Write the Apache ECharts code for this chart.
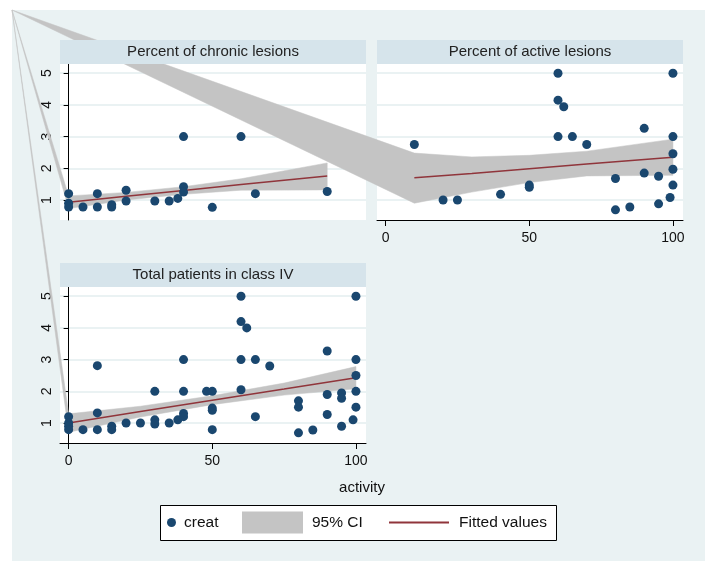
<!DOCTYPE html>
<html>
<head>
<meta charset="utf-8">
<script src="https://cdn.jsdelivr.net/npm/echarts@6/dist/echarts.min.js"></script>
<style>
  html, body { margin: 0; padding: 0; background: #fff; }
  #main { width: 724px; height: 578px; }
</style>
</head>
<body>
<div id="main"></div>
<script>
// panel titles
let panelTitles = ['Percent of chronic lesions', 'Percent of active lesions', 'Total patients in class IV'];

// creat vs activity, one pair of arrays per panel
let chronicX = [0, 0, 0, 5, 10, 10, 15, 15, 20, 20, 30, 35, 38, 40, 40, 40, 50, 60, 65, 90];
let chronicY = [1.2, 0.9, 0.78, 0.78, 1.2, 0.78, 0.78, 0.85, 1.31, 0.97, 0.97, 0.97, 1.05, 1.42, 1.25, 3.0, 0.77, 3.0, 1.2, 1.27];

let activeX = [10, 20, 25, 40, 50, 50, 60, 60, 62, 60, 65, 70, 80, 80, 85, 90, 90, 95, 95, 99, 100, 100, 100, 100, 100];
let activeY = [2.75, 1.0, 1.0, 1.18, 1.47, 1.4, 5.0, 4.15, 3.94, 3.0, 3.0, 2.75, 1.68, 0.69, 0.78, 3.26, 1.85, 1.75, 0.88, 1.08, 5.0, 3.0, 2.46, 1.97, 1.47];

let totalX = [0, 0, 0, 0, 5, 10, 10, 10, 15, 15, 20, 25, 30, 30, 30, 35, 38, 40, 40, 40, 40, 48, 50, 50, 50, 50,
    60, 60, 62, 60, 60, 65, 65, 70, 80, 80, 80, 85, 90, 90, 90, 95, 95, 95, 99, 100, 100, 100, 100, 100];
let totalY = [1.2, 1.0, 0.9, 0.79, 0.79, 2.81, 1.32, 0.79, 0.9, 0.79, 1.0, 1.0, 2.0, 1.1, 0.97, 1.0, 1.1, 3.0, 2.0, 1.3, 1.2, 2.0, 2.0, 1.47, 1.4, 0.79,
    5.0, 4.2, 4.0, 3.0, 2.05, 3.0, 1.2, 2.8, 1.7, 1.5, 0.69, 0.78, 3.27, 1.9, 1.27, 1.95, 1.78, 0.9, 1.1, 5.0, 3.0, 2.5, 2.0, 1.5];

// fitted values and 95% CI
let chronicFitX = [0, 20, 40, 60, 90];
let chronicFit = [0.93, 1.12, 1.30, 1.49, 1.76];
let chronicLo = [0.73, 1.0, 1.18, 1.31, 1.32];
let chronicHi = [1.13, 1.24, 1.42, 1.67, 2.17];

let activeFitX = [10, 30, 50, 70, 100];
let activeFit = [1.70, 1.84, 1.99, 2.14, 2.35];
let activeLo = [0.90, 1.25, 1.55, 1.76, 1.78];
let activeHi = [2.48, 2.36, 2.41, 2.54, 2.92];

let totalFitX = [0, 25, 50, 75, 100];
let totalFit = [1.0, 1.36, 1.72, 2.07, 2.43];
let totalLo = [0.71, 1.19, 1.58, 1.88, 2.08];
let totalHi = [1.29, 1.53, 1.86, 2.26, 2.78];

let yTicks = [1, 2, 3, 4, 5];
let xTicks = [0, 50, 100];

let navy = '#1a476f';
let maroon = '#90353b';
let ciGray = '#c4c4c4';
let frameColor = '#eaf2f3';
let stripColor = '#d6e4eb';
let font = '"Liberation Sans", Arial, sans-serif';

// frame corner (the CI polygons start here in the original)
let frame = {x: 12, y: 10, w: 693, h: 551};
let corner = [frame.x, frame.y];

let myChart = echarts.init(document.getElementById('main'));

let grids = [
    {left: 60, top: 64, width: 306, height: 156},
    {left: 377, top: 64, width: 306, height: 156},
    {left: 60, top: 287, width: 306, height: 156}
];

function xAxisFor(i, showAxis) {
    return {
        type: 'value', gridIndex: i, min: -3, max: 103.5,
        axisLine: {show: showAxis, onZero: false, lineStyle: {color: '#000', width: 1}},
        axisTick: {show: showAxis, length: 6, customValues: xTicks, lineStyle: {color: '#000'}},
        axisLabel: {show: showAxis, customValues: xTicks, margin: 11, color: '#111', fontSize: 14, fontFamily: font},
        splitLine: {show: false}
    };
}

function yAxisFor(i, showAxis) {
    return {
        type: 'value', gridIndex: i, min: 0.37, max: 5.29,
        axisLine: {show: showAxis, lineStyle: {color: '#000', width: 1}},
        axisTick: {show: showAxis, length: 5, customValues: yTicks, lineStyle: {color: '#000'}},
        axisLabel: {show: showAxis, customValues: yTicks, rotate: 90, margin: 6, color: '#111', fontSize: 14, fontFamily: font},
        splitLine: {show: true, lineStyle: {color: frameColor, width: 2}}
    };
}

function scatterSeries(i, xs, ys) {
    return {
        type: 'scatter', name: 'creat', xAxisIndex: i, yAxisIndex: i,
        data: xs.map((x, k) => [x, ys[k]]),
        symbolSize: 9, itemStyle: {color: navy, opacity: 1}, z: 5
    };
}

function fitSeries(i, xs, ys) {
    return {
        type: 'line', name: 'Fitted values', xAxisIndex: i, yAxisIndex: i,
        data: xs.map((x, k) => [x, ys[k]]),
        showSymbol: false, symbol: 'none',
        lineStyle: {color: maroon, width: 1.5}, itemStyle: {color: maroon}, z: 4
    };
}

function bandSeries(i, xs, lo, hi) {
    return {
        type: 'custom', name: '95% CI', xAxisIndex: i, yAxisIndex: i,
        data: xs.map((x, k) => [x, lo[k], hi[k]]),
        clip: false, z: 3,
        itemStyle: {color: ciGray},
        renderItem: function (params, api) {
            if (params.dataIndex !== 0) return;
            let top = xs.map((x, k) => api.coord([x, hi[k]]));
            let bot = xs.map((x, k) => api.coord([x, lo[k]])).reverse();
            return {
                type: 'polygon',
                shape: {points: [corner].concat(top, bot)},
                style: {fill: ciGray, stroke: ciGray, lineWidth: 0.5}
            };
        }
    };
}

let graphics = [
    {type: 'rect', shape: {x: frame.x, y: frame.y, width: frame.w, height: frame.h}, style: {fill: frameColor}, z: -100}
];
// title strips sit above the CI polygons
grids.forEach(function (g, i) {
    graphics.push({
        type: 'rect', shape: {x: g.left, y: g.top - 24, width: g.width, height: 24},
        style: {fill: stripColor}, z: 10
    });
    graphics.push({
        type: 'text', x: g.left + g.width / 2, y: g.top - 12,
        style: {text: panelTitles[i], fill: '#222', font: '15px ' + font, align: 'center', verticalAlign: 'middle'}, z: 11
    });
});
graphics.push({
    type: 'text', x: 362, y: 488,
    style: {text: 'activity', fill: '#111', font: '15px ' + font, align: 'center', verticalAlign: 'middle'}, z: 1
});
// legend box
graphics.push({
    type: 'rect', shape: {x: 160.5, y: 505.5, width: 396, height: 35},
    style: {fill: '#fff', stroke: '#000', lineWidth: 1}, z: 1
});

let legendText = {color: '#111', fontSize: 15.5, fontFamily: font, lineHeight: 22};

myChart.setOption({
    animation: false,
    backgroundColor: '#fff',
    graphic: graphics,
    grid: grids.map(g => Object.assign({show: true, backgroundColor: '#fff', borderWidth: 0, containLabel: false}, g)),
    xAxis: [xAxisFor(0, false), xAxisFor(1, true), xAxisFor(2, true)],
    yAxis: [yAxisFor(0, true), yAxisFor(1, false), yAxisFor(2, true)],
    legend: [
        {data: ['creat'], left: 167, top: 511.5, padding: 0, icon: 'circle', itemWidth: 9, itemHeight: 9, textStyle: Object.assign({padding: [0, 0, 0, 3]}, legendText), selectedMode: false},
        {data: ['95% CI'], left: 242, top: 511.5, padding: 0, icon: 'rect', itemWidth: 61, itemHeight: 22, textStyle: Object.assign({padding: [0, 0, 0, 4]}, legendText), selectedMode: false},
        {data: ['Fitted values'], left: 389, top: 511.5, padding: 0, icon: 'rect', itemWidth: 60, itemHeight: 2, textStyle: Object.assign({padding: [0, 0, 0, 5]}, legendText), selectedMode: false}
    ],
    series: [
        bandSeries(0, chronicFitX, chronicLo, chronicHi),
        fitSeries(0, chronicFitX, chronicFit),
        scatterSeries(0, chronicX, chronicY),
        bandSeries(2, totalFitX, totalLo, totalHi),
        fitSeries(2, totalFitX, totalFit),
        scatterSeries(2, totalX, totalY),
        bandSeries(1, activeFitX, activeLo, activeHi),
        fitSeries(1, activeFitX, activeFit),
        scatterSeries(1, activeX, activeY)
    ]
});
</script>
</body>
</html>
